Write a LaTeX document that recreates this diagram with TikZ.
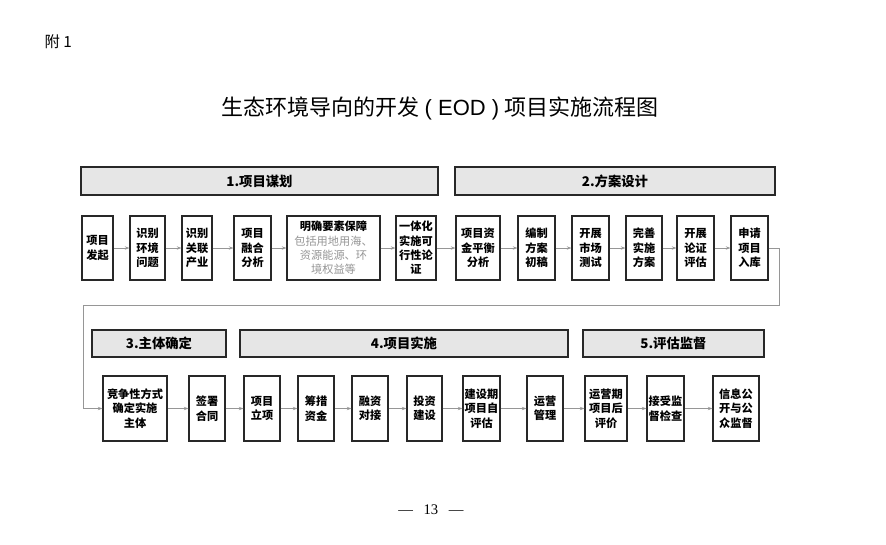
\documentclass[tikz,border=0pt]{standalone}
\usepackage{fontspec}
\setmainfont{Noto Sans CJK SC}
\newfontfamily\pagefont{Liberation Serif}
\newfontfamily\titlefont{Liberation Sans}
\usepackage{xcolor}
\usetikzlibrary{arrows.meta, positioning}
\definecolor{flowDark}{RGB}{40,40,40}
\definecolor{flowGray}{RGB}{150,150,150}
\definecolor{flowHead}{RGB}{230,230,230}

\begin{document}
\begin{tikzpicture}[
    x=0.75pt, y=-0.75pt,
    stepbox/.style={rectangle, draw=flowDark, fill=white, line width=0.8pt,
    inner sep=1pt, align=center, font=\fontsize{8.4}{10.8}\selectfont\bfseries},
    headbox/.style={rectangle, draw=flowDark, fill=flowHead, line width=0.8pt,
    align=center, font=\fontsize{10}{12}\selectfont\bfseries},
    wd/.style={minimum width=#1*0.75pt},
    ht/.style={minimum height=#1*0.75pt},
    arrow/.style={-{Stealth[length=3.5pt,width=2.5pt]}, line width=0.6pt, color=flowGray}
]
\useasboundingbox (0,0) rectangle (886,544);

% heading
\node[anchor=west, font=\fontsize{11.5}{13}\selectfont] (annex) at (40,42) {附 1};
\node[font=\fontsize{16.5}{18}\selectfont] (title) at (440,108)
    {生态环境导向的开发 {\titlefont( EOD )} 项目实施流程图};

% stage headers
\node[headbox, wd=357, ht=28] (h1) at (259.5,181) {1.项目谋划};
\node[headbox, wd=320, ht=28] (h2) at (615,181) {2.方案设计};
\node[headbox, wd=134, ht=27] (h3) at (159,343.5) {3.主体确定};
\node[headbox, wd=328, ht=27] (h4) at (404,343.5) {4.项目实施};
\node[headbox, wd=181, ht=27] (h5) at (673.5,343.5) {5.评估监督};

% first row
\node[stepbox, wd=31, ht=64] (p1) at (97.5,248) {项目\\发起};
\node[stepbox, wd=35, ht=64] (p2) at (147.5,248) {识别\\环境\\问题};
\node[stepbox, wd=30, ht=64] (p3) at (197,248) {识别\\关联\\产业};
\node[stepbox, wd=37, ht=64] (p4) at (252.5,248) {项目\\融合\\分析};
\node[stepbox, wd=93, ht=64] (p5) at (333.5,248) {明确要素保障\\
    {\mdseries\color{flowGray}包括用地用海、}\\
    {\mdseries\color{flowGray}资源能源、环}\\
    {\mdseries\color{flowGray}境权益等}};
\node[stepbox, wd=40, ht=64] (p6) at (416,248) {一体化\\实施可\\行性论\\证};
\node[stepbox, wd=44, ht=64] (p7) at (478,248) {项目资\\金平衡\\分析};
\node[stepbox, wd=37, ht=64] (p8) at (536.5,248) {编制\\方案\\初稿};
\node[stepbox, wd=37, ht=64] (p9) at (590.5,248) {开展\\市场\\测试};
\node[stepbox, wd=36, ht=64] (p10) at (644,248) {完善\\实施\\方案};
\node[stepbox, wd=37, ht=64] (p11) at (695.5,248) {开展\\论证\\评估};
\node[stepbox, wd=37, ht=64] (p12) at (749.5,248) {申请\\项目\\入库};

% second row
\node[stepbox, wd=64, ht=65] (s1) at (135,408.5) {竞争性方式\\确定实施\\主体};
\node[stepbox, wd=36, ht=65] (s2) at (207,408.5) {签署\\合同};
\node[stepbox, wd=36, ht=65] (s3) at (262,408.5) {项目\\立项};
\node[stepbox, wd=36, ht=65] (s4) at (316,408.5) {筹措\\资金};
\node[stepbox, wd=36, ht=65] (s5) at (370,408.5) {融资\\对接};
\node[stepbox, wd=35, ht=65] (s6) at (424.5,408.5) {投资\\建设};
\node[stepbox, wd=37, ht=65] (s7) at (481.5,408.5) {建设期\\项目自\\评估};
\node[stepbox, wd=36, ht=65] (s8) at (545,408.5) {运营\\管理};
\node[stepbox, wd=42, ht=65] (s9) at (606,408.5) {运营期\\项目后\\评价};
\node[stepbox, wd=37, ht=65] (s10) at (665.5,408.5) {接受监\\督检查};
\node[stepbox, wd=46, ht=65] (s11) at (736,408.5) {信息公\\开与公\\众监督};

% page number
\node[font=\pagefont\fontsize{11}{12}\selectfont] (page) at (431,510) {—\hspace{8pt}13\hspace{8pt}—};

\draw[arrow] (p1) -- (p2);
\draw[arrow] (p2) -- (p3);
\draw[arrow] (p3) -- (p4);
\draw[arrow] (p4) -- (p5);
\draw[arrow] (p5) -- (p6);
\draw[arrow] (p6) -- (p7);
\draw[arrow] (p7) -- (p8);
\draw[arrow] (p8) -- (p9);
\draw[arrow] (p9) -- (p10);
\draw[arrow] (p10) -- (p11);
\draw[arrow] (p11) -- (p12);

% return line to second row
\coordinate (turnR) at (779,305);
\coordinate (turnL) at (83,305);
\draw[arrow] (p12.east) -| (turnR) -- (turnL) |- (s1.west);

\draw[arrow] (s1) -- (s2);
\draw[arrow] (s2) -- (s3);
\draw[arrow] (s3) -- (s4);
\draw[arrow] (s4) -- (s5);
\draw[arrow] (s5) -- (s6);
\draw[arrow] (s6) -- (s7);
\draw[arrow] (s7) -- (s8);
\draw[arrow] (s8) -- (s9);
\draw[arrow] (s9) -- (s10);
\draw[arrow] (s10) -- (s11);
\end{tikzpicture}
\end{document}
